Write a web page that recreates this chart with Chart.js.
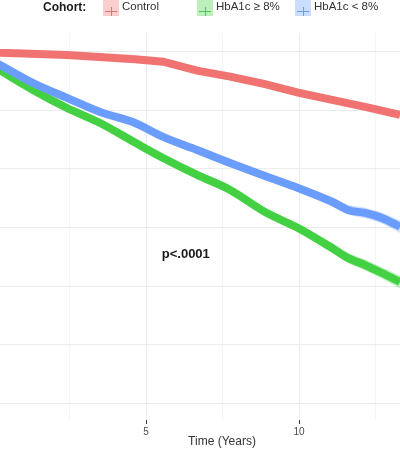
<!DOCTYPE html>
<html>
<head>
<meta charset="utf-8">
<script src="https://cdn.jsdelivr.net/npm/chart.js@4"></script>
<style>
html,body{margin:0;padding:0;background:#fff;}
#wrap{position:relative;width:400px;height:450px;}
</style>
</head>
<body>
<div id="wrap"><canvas id="c" width="400" height="450"></canvas></div>
<script>
// ---- data (survival %, time in years) ----
const cohorts = ["Control", "HbA1c \u2265 8%", "HbA1c < 8%"];
const controlTime = [0, 0.23, 2.42, 4.64, 5.56, 6.67, 7.75, 8.89, 9.97, 11.08, 12.16, 13.30];
const controlSurv = [100, 99.94, 99.74, 99.38, 99.17, 98.40, 97.89, 97.26, 96.52, 95.90, 95.30, 94.62];
const diabTime = [0, 0.23, 1.31, 2.42, 3.50, 4.64, 5.56, 6.67, 7.75, 8.89, 9.97, 11.08, 11.60, 12.16, 12.71, 13.30];
const highSurv = [98.9, 98.46, 96.75, 95.21, 93.93, 92.26, 90.94, 89.49, 88.21, 86.32, 84.96, 83.25, 82.39, 81.79, 81.11, 80.34];
const lowSurv  = [99.2, 98.89, 97.35, 96.07, 94.87, 93.93, 92.74, 91.62, 90.51, 89.40, 88.38, 87.20, 86.50, 86.24, 85.81, 85.07];
const bandTime = [9.97, 11.08, 11.60, 12.16, 12.71, 13.30];
const highUpper = [85.30, 83.65, 82.84, 82.26, 81.61, 80.89];
const highLower = [84.62, 82.85, 81.94, 81.32, 80.61, 79.79];
const lowUpper  = [88.70, 87.58, 86.92, 86.68, 86.28, 85.60];
const lowLower  = [88.06, 86.82, 86.08, 85.80, 85.34, 84.54];
const xTickValues = [2.5, 5, 7.5, 10, 12.5];
const yTickValues = [70, 75, 80, 85, 90, 95, 100];
const pLabel = "p<.0001";
const xTitle = "Time (Years)";

const RED = "#F07371", GREEN = "#43D143", BLUE = "#6B9DFF";
const pts = (xs, ys) => xs.map((x, i) => ({x: x, y: ys[i]}));

const overlay = {
  id: 'overlay',
  afterDraw(chart) {
    const ctx = chart.ctx;
    const xs = chart.scales.x, ys = chart.scales.y;
    ctx.save();
    // p-value
    ctx.fillStyle = '#1a1a1a';
    ctx.font = 'bold 13px "Liberation Sans", Arial, sans-serif';
    ctx.textAlign = 'center'; ctx.textBaseline = 'middle';
    ctx.fillText(pLabel, xs.getPixelForValue(6.30), ys.getPixelForValue(82.73));
    // x title
    ctx.fillStyle = '#333333';
    ctx.font = '12px "Liberation Sans", Arial, sans-serif';
    ctx.fillText(xTitle, 222, 442);
    // legend
    ctx.textAlign = 'left';
    ctx.fillStyle = '#1a1a1a';
    ctx.font = 'bold 12px "Liberation Sans", Arial, sans-serif';
    ctx.fillText('Cohort:', 43, 7.5);
    const keys = [[103, RED, 'rgba(240,115,113,0.35)'], [197, GREEN, 'rgba(67,209,67,0.35)'], [295, BLUE, 'rgba(107,157,255,0.35)']];
    ctx.font = '11.5px "Liberation Sans", Arial, sans-serif';
    keys.forEach((k, i) => {
      const [x, col, fill] = k;
      ctx.fillStyle = fill;
      ctx.fillRect(x, 0, 16, 16);
      ctx.strokeStyle = col; ctx.lineWidth = 1;
      ctx.beginPath();
      ctx.moveTo(x + 2, 11.5); ctx.lineTo(x + 14, 11.5);
      ctx.moveTo(x + 8.5, 7); ctx.lineTo(x + 8.5, 16);
      ctx.stroke();
      ctx.fillStyle = '#333333';
      ctx.fillText(cohorts[i], x + 19, 6.5);
    });
    ctx.restore();
  }
};

new Chart(document.getElementById('c'), {
  type: 'line',
  data: {
    datasets: [
      {data: pts(bandTime, highLower), borderWidth: 0, pointRadius: 0, fill: false, backgroundColor: 'rgba(67,209,67,0.3)'},
      {data: pts(bandTime, highUpper), borderWidth: 0, pointRadius: 0, fill: '-1', backgroundColor: 'rgba(67,209,67,0.3)'},
      {data: pts(bandTime, lowLower), borderWidth: 0, pointRadius: 0, fill: false, backgroundColor: 'rgba(107,157,255,0.3)'},
      {data: pts(bandTime, lowUpper), borderWidth: 0, pointRadius: 0, fill: '-1', backgroundColor: 'rgba(107,157,255,0.3)'},
      {label: cohorts[2], data: pts(diabTime, lowSurv), borderColor: BLUE, borderWidth: 8, pointRadius: 0, cubicInterpolationMode: 'monotone', fill: false},
      {label: cohorts[1], data: pts(diabTime, highSurv), borderColor: GREEN, borderWidth: 8, pointRadius: 0, cubicInterpolationMode: 'monotone', fill: false},
      {label: cohorts[0], data: pts(controlTime, controlSurv), borderColor: RED, borderWidth: 8, pointRadius: 0, tension: 0, fill: false}
    ]
  },
  options: {
    responsive: false,
    animation: false,
    layout: {padding: {top: 33, left: 0, right: 0, bottom: 0}},
    plugins: {legend: {display: false}, tooltip: {enabled: false}},
    scales: {
      x: {
        type: 'linear', min: 0.229, max: 13.30,
        afterBuildTicks: s => { s.ticks = xTickValues.map(v => ({value: v})); },
        afterFit: s => { s.height = 30; },
        border: {display: false},
        grid: {
          color: ctx => (ctx.tick && ctx.tick.value % 5 === 0) ? '#ebebeb' : '#f2f2f2',
          lineWidth: ctx => (ctx.tick && ctx.tick.value % 5 === 0) ? 1 : 0.8,
          tickColor: ctx => (ctx.tick && ctx.tick.value % 5 === 0) ? '#333333' : 'rgba(0,0,0,0)',
          tickLength: 4
        },
        ticks: {
          autoSkip: false, maxRotation: 0, padding: 2,
          color: '#4d4d4d',
          font: {family: '"Liberation Sans", Arial, sans-serif', size: 10},
          callback: v => (v % 5 === 0 ? String(v) : '')
        }
      },
      y: {
        type: 'linear', min: 68.55, max: 101.62,
        afterBuildTicks: s => { s.ticks = yTickValues.map(v => ({value: v})); },
        afterFit: s => { s.width = 0; },
        border: {display: false},
        grid: {color: '#ebebeb', drawTicks: false},
        ticks: {display: false}
      }
    }
  },
  plugins: [overlay]
});
</script>
</body>
</html>
